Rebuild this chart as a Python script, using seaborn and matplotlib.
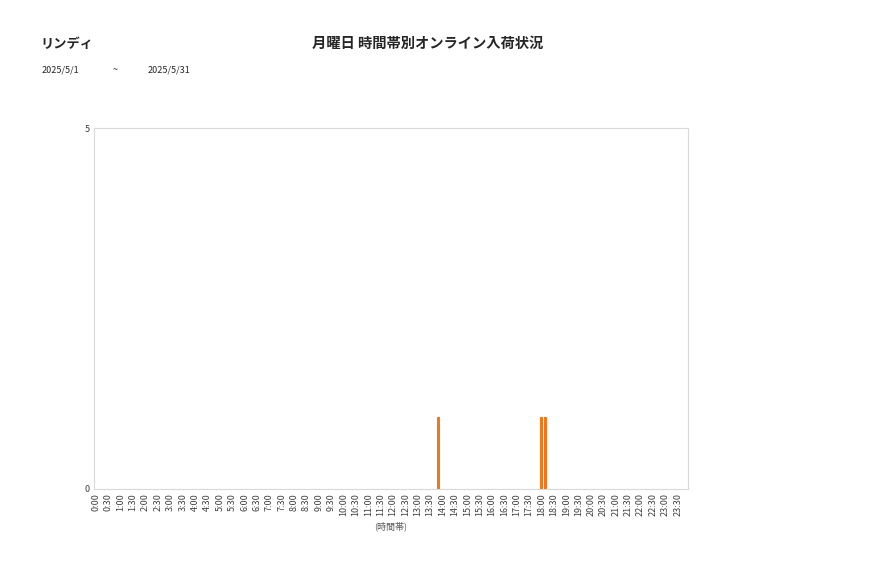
import matplotlib
matplotlib.use("Agg")
import matplotlib.pyplot as plt
import seaborn as sns
import pandas as pd

# --- data ---
store_name = "リンディ"
chart_title = "月曜日 時間帯別オンライン入荷状況"
date_from = "2025/5/1"
date_to = "2025/5/31"

# 10-minute slots over the day, label shown every 30 minutes
slot_labels = [f"{h}:{m:02d}" for h in range(24) for m in (0, 10, 20, 30, 40, 50)]
hit_slots = ["13:50", "18:00", "18:10"]
hit_counts = [1, 1, 1]

counts = dict(zip(hit_slots, hit_counts))
df = pd.DataFrame({"slot": slot_labels,
                   "count": [counts.get(s, 0) for s in slot_labels]})

sns.set_theme(style="white")
plt.rcParams["font.family"] = ["Noto Sans CJK JP", "DejaVu Sans"]

fig = plt.figure(figsize=(8.77, 5.78), dpi=100)
ax = fig.add_axes([0.1072, 0.154, 0.6773, 0.6245])

sns.barplot(data=df, x="slot", y="count", order=slot_labels,
            color="#F5761A", saturation=1, width=0.72,
            linewidth=0, ax=ax)

ax.set_xlim(-0.5, len(slot_labels) - 0.5)
ax.set_ylim(0, 5)
ax.set_yticks([0, 5])
ax.set_yticklabels(["0", "5"], fontsize=6.5, color="#404040")
ticks = list(range(0, len(slot_labels), 3))
ax.set_xticks(ticks)
ax.set_xticklabels([slot_labels[i] for i in ticks], rotation=90,
                   fontsize=6.5, color="#404040")
ax.tick_params(axis="both", length=0, pad=3)
ax.set_xlabel("(時間帯)", fontsize=6.5, color="#595959", labelpad=4)
ax.set_ylabel("")
for sp in ax.spines.values():
    sp.set_color("#D9D9D9")
    sp.set_linewidth(0.8)

fig.text(40 / 877, 1 - 44 / 578, store_name, fontsize=9.5, fontweight="bold",
         va="center", ha="left")
fig.text(428 / 877, 1 - 44 / 578, chart_title, fontsize=10.3, fontweight="bold",
         va="center", ha="center")
fig.text(42 / 877, 1 - 70 / 578, date_from, fontsize=6.5, va="center", ha="left")
fig.text(115 / 877, 1 - 70 / 578, "~", fontsize=6.5, va="center", ha="center")
fig.text(148 / 877, 1 - 70 / 578, date_to, fontsize=6.5, va="center", ha="left")

fig.savefig("out.png", dpi=100)
